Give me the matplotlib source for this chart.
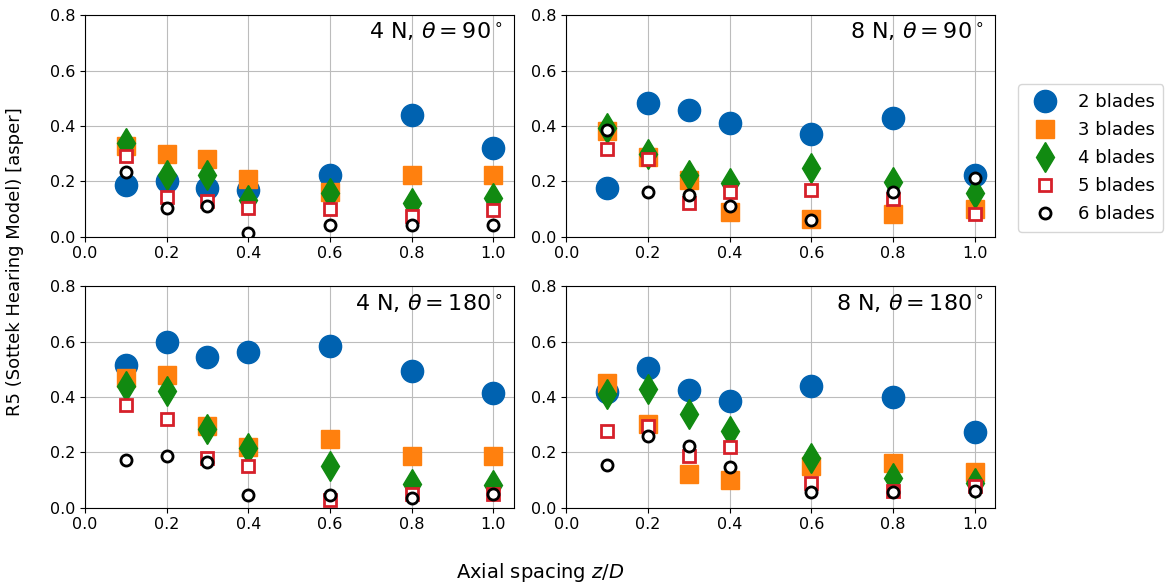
import matplotlib.pyplot as plt

# axial spacing z/D
spacing = [0.1, 0.2, 0.3, 0.4, 0.6, 0.8, 1.0]

blade_labels = ['2 blades', '3 blades', '4 blades', '5 blades', '6 blades']

# R5 roughness per case, one row per blade count (2..6 blades)
r5_4n_90 = [
    [0.188, 0.200, 0.174, 0.170, 0.222, 0.438, 0.320],
    [0.326, 0.300, 0.282, 0.210, 0.161, 0.224, 0.224],
    [0.338, 0.224, 0.222, 0.134, 0.156, 0.122, 0.138],
    [0.293, 0.144, 0.128, 0.104, 0.098, 0.074, 0.095],
    [0.233, 0.102, 0.110, 0.014, 0.042, 0.041, 0.041],
]
r5_8n_90 = [
    [0.176, 0.482, 0.458, 0.410, 0.371, 0.428, 0.224],
    [0.380, 0.288, 0.203, 0.090, 0.062, 0.083, 0.098],
    [0.392, 0.300, 0.221, 0.194, 0.248, 0.197, 0.158],
    [0.318, 0.282, 0.120, 0.162, 0.170, 0.137, 0.080],
    [0.384, 0.161, 0.152, 0.110, 0.060, 0.162, 0.212],
]
r5_4n_180 = [
    [0.516, 0.598, 0.546, 0.564, 0.584, 0.495, 0.416],
    [0.468, 0.480, 0.297, 0.219, 0.248, 0.188, 0.186],
    [0.441, 0.423, 0.285, 0.216, 0.150, 0.086, 0.084],
    [0.372, 0.321, 0.180, 0.152, 0.028, 0.050, 0.048],
    [0.174, 0.188, 0.166, 0.046, 0.046, 0.034, 0.050],
]
r5_8n_180 = [
    [0.420, 0.504, 0.426, 0.387, 0.440, 0.399, 0.272],
    [0.450, 0.303, 0.122, 0.100, 0.152, 0.162, 0.130],
    [0.411, 0.428, 0.339, 0.276, 0.180, 0.108, 0.088],
    [0.279, 0.294, 0.186, 0.219, 0.088, 0.060, 0.080],
    [0.154, 0.258, 0.225, 0.148, 0.058, 0.058, 0.060],
]

cases = [
    (r5_4n_90, r'4 N, $\theta = 90^\circ$'),
    (r5_8n_90, r'8 N, $\theta = 90^\circ$'),
    (r5_4n_180, r'4 N, $\theta = 180^\circ$'),
    (r5_8n_180, r'8 N, $\theta = 180^\circ$'),
]

# marker style per blade count
styles = [
    dict(marker='o', ms=16, color='#0062b0', mec='#0062b0', mfc='#0062b0'),
    dict(marker='s', ms=13, color='#ff800e', mec='#ff800e', mfc='#ff800e'),
    dict(marker='d', ms=15, color='#118a11', mec='#118a11', mfc='#118a11'),
    dict(marker='s', ms=8, color='#d6202a', mec='#d6202a', mfc='white', mew=2),
    dict(marker='o', ms=8, color='black', mec='black', mfc='white', mew=2),
]

fig, axes = plt.subplots(2, 2, figsize=(11.65, 5.87), dpi=100)
plt.subplots_adjust(left=0.073, right=0.854, top=0.974, bottom=0.135,
                    wspace=0.1235, hspace=0.225)

for ax, (values, title) in zip(axes.flat, cases):
    for row, label, st in zip(values, blade_labels, styles):
        ax.plot(spacing, row, ls='none', label=label, **st)
    ax.set_xlim(0, 1.05)
    ax.set_ylim(0, 0.8)
    ax.set_xticks([0.0, 0.2, 0.4, 0.6, 0.8, 1.0])
    ax.set_yticks([0.0, 0.2, 0.4, 0.6, 0.8])
    ax.tick_params(labelsize=11.5)
    ax.grid(True, color='#bcbcbc')
    ax.text(0.975, 0.975, title, transform=ax.transAxes,
            ha='right', va='top', fontsize=16)

handles, labels = axes[0, 0].get_legend_handles_labels()
fig.legend(handles, labels, loc='upper left', bbox_to_anchor=(0.866, 0.872),
           fontsize=13, labelspacing=0.55, handletextpad=0.8, borderpad=0.5)

fig.text(0.013, 0.555, 'R5 (Sottek Hearing Model) [asper]',
         rotation=90, ha='center', va='center', fontsize=13)
fig.text(0.4635, 0.024, 'Axial spacing $z/D$', ha='center', va='center',
         fontsize=14)

plt.savefig('out.png', dpi=100)
